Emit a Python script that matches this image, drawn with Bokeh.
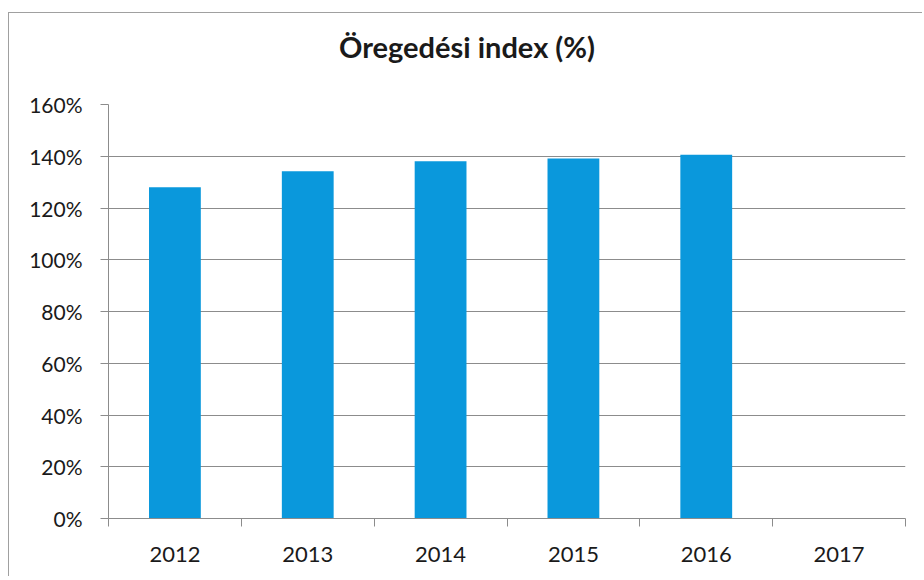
from bokeh.plotting import figure
from bokeh.layouts import column
from bokeh.models import (ColumnDataSource, Range1d, LinearAxis, FixedTicker,
                          PrintfTickFormatter, CustomJSTickFormatter, Div)
from bokeh.embed import file_html
from bokeh.resources import INLINE

# ---- data ----
years = ["2012", "2013", "2014", "2015", "2016", "2017"]
aging_index = [128.0, 134.2, 138.1, 139.1, 140.6, float("nan")]
y_ticks = [0, 20, 40, 60, 80, 100, 120, 140, 160]
title_text = "Öregedési index (%)"

FONT = "Lato"
GRID = "#8c8c8c"
BAR = "#0a98dc"
TXT = "#1a1a1a"
W = 913

source = ColumnDataSource(data=dict(year=years, value=aging_index))

title_div = Div(
    text=('<div style="display:block;box-sizing:border-box;width:%dpx;margin:0;'
          'padding:19px 0 0 3px;font-family:Lato;font-size:29px;font-weight:bold;'
          'line-height:29px;color:%s;text-align:center;">%s</div>')
         % (W, TXT, title_text),
    width=W, height=60, margin=0)

p = figure(width=W, height=503, x_range=years, y_range=Range1d(0, 160),
           output_backend="svg", toolbar_location=None,
           x_axis_location=None, y_axis_location="left",
           min_border_left=99, min_border_right=17,
           min_border_top=31, min_border_bottom=58, margin=0)

p.vbar(x="year", top="value", width=0.39, source=source,
       fill_color=BAR, line_color=None)

p.outline_line_color = None
p.background_fill_color = "white"
p.border_fill_color = "white"
p.xgrid.visible = False
p.ygrid.ticker = FixedTicker(ticks=y_ticks)
p.ygrid.grid_line_color = GRID
p.ygrid.grid_line_width = 1

yax = p.yaxis[0]
yax.ticker = FixedTicker(ticks=y_ticks)
yax.formatter = PrintfTickFormatter(format="%d%%")
yax.major_label_text_font = FONT
yax.major_label_text_font_size = "21px"
yax.major_label_text_color = TXT
yax.major_label_standoff = 18
yax.major_tick_out = 8
yax.major_tick_in = 0
yax.minor_tick_line_color = None
yax.axis_line_color = GRID
yax.major_tick_line_color = GRID

# x axis: labels at category centres, tick marks at category boundaries
n = len(years)
xax = LinearAxis(
    ticker=FixedTicker(ticks=[i + 0.5 for i in range(n)],
                       minor_ticks=list(range(n + 1))),
    formatter=CustomJSTickFormatter(args=dict(years=years), code="""
        const i = Math.floor(tick);
        return (i >= 0 && i < years.length) ? years[i] : '';
    """),
    major_tick_out=0, major_tick_in=0,
    minor_tick_out=8, minor_tick_in=0,
    major_tick_line_color=None,
    minor_tick_line_color=GRID,
    axis_line_color=GRID,
    major_label_standoff=20,
    major_label_text_font=FONT,
    major_label_text_font_size="22px",
    major_label_text_color=TXT)
p.add_layout(xax, "below")

layout = column(title_div, p, spacing=0, margin=0)
layout.styles = {"border-left": "1px solid #a0a0a0",
                 "border-top": "1px solid #a0a0a0",
                 "margin-left": "8px",
                 "margin-top": "12px",
                 "background-color": "white"}

open("out.html", "w").write(file_html(layout, INLINE))
